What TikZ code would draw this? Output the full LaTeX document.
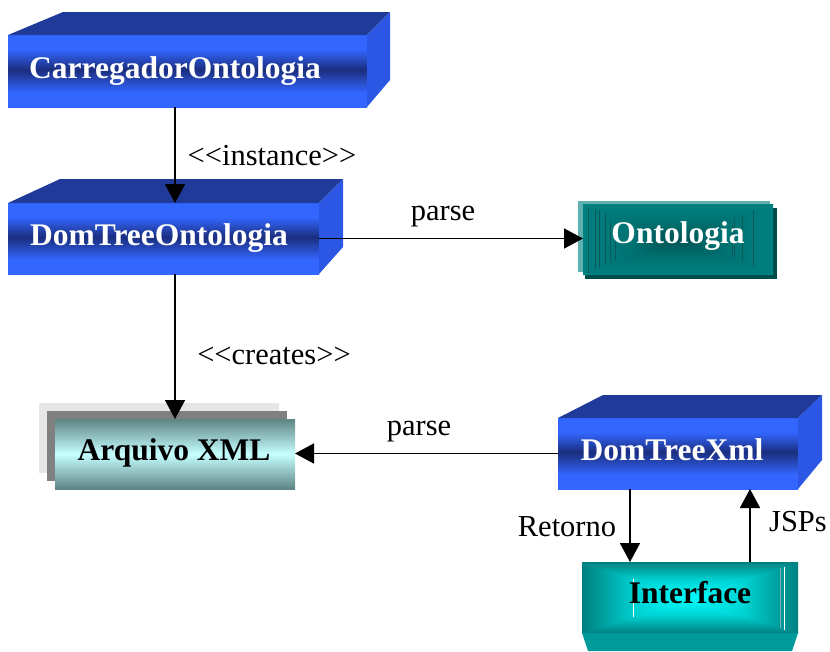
\documentclass[tikz,border=0pt]{standalone}
\usepackage{fontspec}
\setmainfont{Liberation Serif}
\usetikzlibrary{arrows.meta,calc}

% palette
\definecolor{bbright}{HTML}{3366FF}
\definecolor{bbdark}{HTML}{1B2E7E}
\definecolor{bbtop}{HTML}{1F3A98}
\definecolor{bbside}{HTML}{2C56E4}
\definecolor{tealedge}{HTML}{008080}
\definecolor{tealcore}{HTML}{005252}
\definecolor{teallight}{HTML}{60B0B0}
\definecolor{tealshadow}{HTML}{004C4C}
\definecolor{tealline}{HTML}{0A5A5A}
\definecolor{cyancore}{HTML}{00FFFF}
\definecolor{ifedge}{HTML}{008080}
\definecolor{ifbase}{HTML}{009A9A}
\definecolor{xmledge}{HTML}{5E8484}
\definecolor{xmlcore}{HTML}{C6FFFF}
\definecolor{paperlight}{HTML}{E6E6E6}
\definecolor{papermid}{HTML}{808080}

% front face of the blue blocks: bright rims with a dark band in the middle
\pgfdeclareverticalshading{bluebar}{100bp}{color(0bp)=(bbright); color(35bp)=(bbright);
  color(51bp)=(bbdark); color(65bp)=(bbright); color(100bp)=(bbright)}

% top and right faces of a block, built on its front node
% #1 node, #2 top-left depth, #3 right depth, #4 rise, #5 rise at the bottom
\newcommand\blockfaces[5]{%
  \fill[bbtop] (#1.north west) -- ++(#2,-#4) -- ($(#1.north east)+(#3,-#4)$) -- (#1.north east) -- cycle;
  \fill[bbside] (#1.north east) -- ++(#3,-#4) -- ($(#1.south east)+(#3,-#5)$) -- (#1.south east) -- cycle;}

% rectangular gradient running from the rim of a node to its centre
% #1 node, #2 rim colour, #3 halfway colour, #4 centre colour
\newcommand\framefill[4]{%
  \fill[#2] (#1.north west) rectangle (#1.south east);
  \shade[top color=#2, bottom color=#4, middle color=#3] (#1.north west) -- (#1.north east) -- (#1.center) -- cycle;
  \shade[top color=#4, bottom color=#2, middle color=#3] (#1.south west) -- (#1.south east) -- (#1.center) -- cycle;
  \shade[left color=#2, right color=#4, middle color=#3] (#1.north west) -- (#1.south west) -- (#1.center) -- cycle;
  \shade[left color=#4, right color=#2, middle color=#3] (#1.north east) -- (#1.south east) -- (#1.center) -- cycle;}

\begin{document}
\begin{tikzpicture}[x=1pt,y=-1pt,
  bluefront/.style={shade, shading=bluebar, inner sep=0pt, outer sep=0pt},
  plainface/.style={inner sep=0pt, outer sep=0pt},
  xmlface/.style={inner sep=0pt, outer sep=0pt, top color=xmledge, bottom color=xmledge, middle color=xmlcore},
  conn/.style={line width=1.6pt, -{Triangle[width=20pt,length=19pt]}},
  boxlabel/.style={font=\fontsize{31.5}{32}\selectfont\bfseries, inner sep=0pt, anchor=base},
  tag/.style={font=\fontsize{30.5}{31}\selectfont, inner sep=0pt, anchor=base}]

\useasboundingbox (0,0) rectangle (830,651);

% CarregadorOntologia
\node[bluefront, minimum width=359pt, minimum height=72pt] (carr) at (187.5,71) {};
\blockfaces{carr}{55}{23}{23}{27}
\node[boxlabel, white] (carrT) at (175,78) {CarregadorOntologia};

% DomTreeOntologia
\node[bluefront, minimum width=311pt, minimum height=71pt] (domo) at (163.5,238.5) {};
\blockfaces{domo}{52}{24}{24}{27}
\node[boxlabel, white] (domoT) at (159,245) {DomTreeOntologia};

% DomTreeXml
\node[bluefront, minimum width=240pt, minimum height=71pt] (dtx) at (678,453.5) {};
\blockfaces{dtx}{45}{24}{23}{29}
\node[boxlabel, white] (dtxT) at (672,460) {DomTreeXml};

% Ontologia
\fill[teallight] (578,201) rectangle (770,272);
\fill[tealshadow] (585,208) rectangle (777,279);
\node[plainface, minimum width=190pt, minimum height=71pt] (onto) at (678,239.5) {};
\framefill{onto}{tealedge}{tealedge!70!tealcore}{tealcore}
\begin{scope}[tealline, line width=0.6pt]
  \draw (588,207) -- (588,273);
  \draw (595,209) -- (595,270);
  \draw (599,210) -- (599,268);
  \draw (605,213) -- (605,265);
  \draw (610,222) -- (610,262);
  \draw (615,225) -- (615,260);
  \draw (732,225) -- (732,255);
  \draw (734,218) -- (734,258);
  \draw (742,215) -- (742,262);
  \draw (753,210) -- (753,267);
\end{scope}
\node[boxlabel, white] (ontoT) at (678,243) {Ontologia};

% Arquivo XML: stacked sheets
\fill[paperlight] (39,403) rectangle (279,473);
\fill[papermid] (47,411) rectangle (287,481);
\node[xmlface, minimum width=240pt, minimum height=70pt] (arq) at (175,454) {};
\node[boxlabel, black] (arqT) at (174,460) {Arquivo XML};

% Interface
\node[plainface, minimum width=216pt, minimum height=71pt] (intf) at (690,597.5) {};
\fill[ifbase] (intf.south west) -- (intf.south east) -- ++(-6,18) -- ($(intf.south west)+(6,18)$) -- cycle;
\framefill{intf}{ifedge}{ifedge!35!cyancore}{cyancore}
\draw[white, line width=0.8pt] (633,579) -- (633,617);
\draw[white, line width=0.8pt] (784,567) -- (784,630);
\draw[tealline!50!white, line width=0.5pt] (780,568) -- (780,628);
\node[boxlabel, black] (intfT) at (690,603) {Interface};

% connectors
\coordinate (retx) at (630,0);
\coordinate (jspx) at (750,0);
\draw[conn] (carrT |- carr.south) -- (carrT |- domo.north);
\draw[conn] (carrT |- domo.south) -- (carrT |- arq.north);
\draw[conn] (domo.east) -- (domo.east -| onto.west);
\draw[conn] (dtx.west) -- (dtx.west -| arq.east);
\draw[conn] (retx |- dtx.south) -- (retx |- intf.north);
\draw[conn] (jspx |- intf.north) -- (jspx |- dtx.south);

% connector labels
\node[tag] (instT) at (272,165) {<\kern0pt<instance>\kern0pt>};
\node[tag] (parseA) at (443,220) {parse};
\node[tag] (creaT) at (274,364) {<\kern0pt<creates>\kern0pt>};
\node[tag] (parseB) at (419,435) {parse};
\node[tag] (retT) at (567,536) {Retorno};
\node[tag] (jspT) at (798,531) {JSPs};
\end{tikzpicture}
\end{document}
